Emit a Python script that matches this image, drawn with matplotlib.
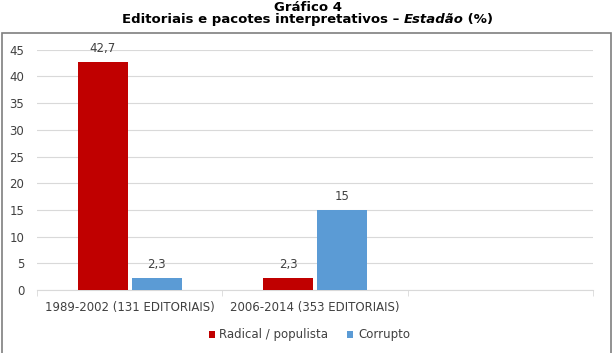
import matplotlib.pyplot as plt
from matplotlib.patches import Rectangle
import numpy as np

# dados
categorias = ["1989-2002 (131 EDITORIAIS)", "2006-2014 (353 EDITORIAIS)", ""]
radical = [42.7, 2.3, None]
corrupto = [2.3, 15, None]
series = ["Radical / populista", "Corrupto"]
cores = ["#C00000", "#5B9BD5"]

plt.rcParams['font.family'] = 'DejaVu Sans'

fig = plt.figure(figsize=(6.15, 3.53), dpi=100)
ax = fig.add_axes([0.060, 0.178, 0.905, 0.681])

x = np.arange(len(categorias))
w = 0.27
off = 0.145
for vals, nome, cor, d in [(radical, series[0], cores[0], -off), (corrupto, series[1], cores[1], off)]:
    xs = [xi + d for xi, v in zip(x, vals) if v is not None]
    vs = [v for v in vals if v is not None]
    barras = ax.bar(xs, vs, width=w, color=cor, label=nome, zorder=3)
    for b, v in zip(barras, vs):
        txt = str(v).replace(".", ",")
        if txt.endswith(",0"):
            txt = txt[:-2]
        ax.annotate(txt, (b.get_x() + b.get_width() / 2, v), xytext=(0, 5),
                    textcoords="offset points", ha="center", va="bottom",
                    fontsize=8.5, color="#404040")

ax.set_xlim(-0.5, 2.5)
ax.set_ylim(0, 45)
ax.set_yticks(range(0, 46, 5))
ax.yaxis.grid(True, color="#D9D9D9", linewidth=0.8, zorder=0)
for s in ["top", "right", "left"]:
    ax.spines[s].set_visible(False)
ax.spines["bottom"].set_color("#D9D9D9")
ax.tick_params(axis="y", length=0, labelsize=8.5, labelcolor="#404040", pad=9)
ax.set_xticks(x)
ax.set_xticklabels(categorias)
ax.set_xticks([-0.5, 0.5, 1.5, 2.5], minor=True)
ax.tick_params(axis="x", which="major", length=0, labelsize=8.5, labelcolor="#404040", pad=8)
ax.tick_params(axis="x", which="minor", length=4, color="#D9D9D9")

ax.legend(loc="center", bbox_to_anchor=(0.503, 0.051), bbox_transform=fig.transFigure,
          ncol=2, frameon=False, fontsize=8.5, handlelength=0.5, handleheight=0.5,
          handletextpad=0.4, columnspacing=1.6, labelcolor="#404040")

# moldura
fig.patches.append(Rectangle((0.003, -0.01), 0.990, 0.917, transform=fig.transFigure,
                             fill=False, edgecolor="#7F7F7F", linewidth=1.2))

# títulos
fig.text(0.5, 0.979, "Gráfico 4", ha="center", va="center", fontsize=9.5, fontweight="bold")
partes = [("Editoriais e pacotes interpretativos – ", "normal"), ("Estadão", "italic"), (" (%)", "normal")]
fig.canvas.draw()
r = fig.canvas.get_renderer()
textos = []
for t, st in partes:
    textos.append(fig.text(0, 0.944, t, ha="left", va="center", fontsize=9.5,
                           fontweight="bold", style=st))
larg = [tt.get_window_extent(r).width for tt in textos]
total = sum(larg)
xpos = (fig.bbox.width - total) / 2
for tt, lw in zip(textos, larg):
    tt.set_x(xpos / fig.bbox.width)
    xpos += lw

fig.savefig("out.png", dpi=100)
